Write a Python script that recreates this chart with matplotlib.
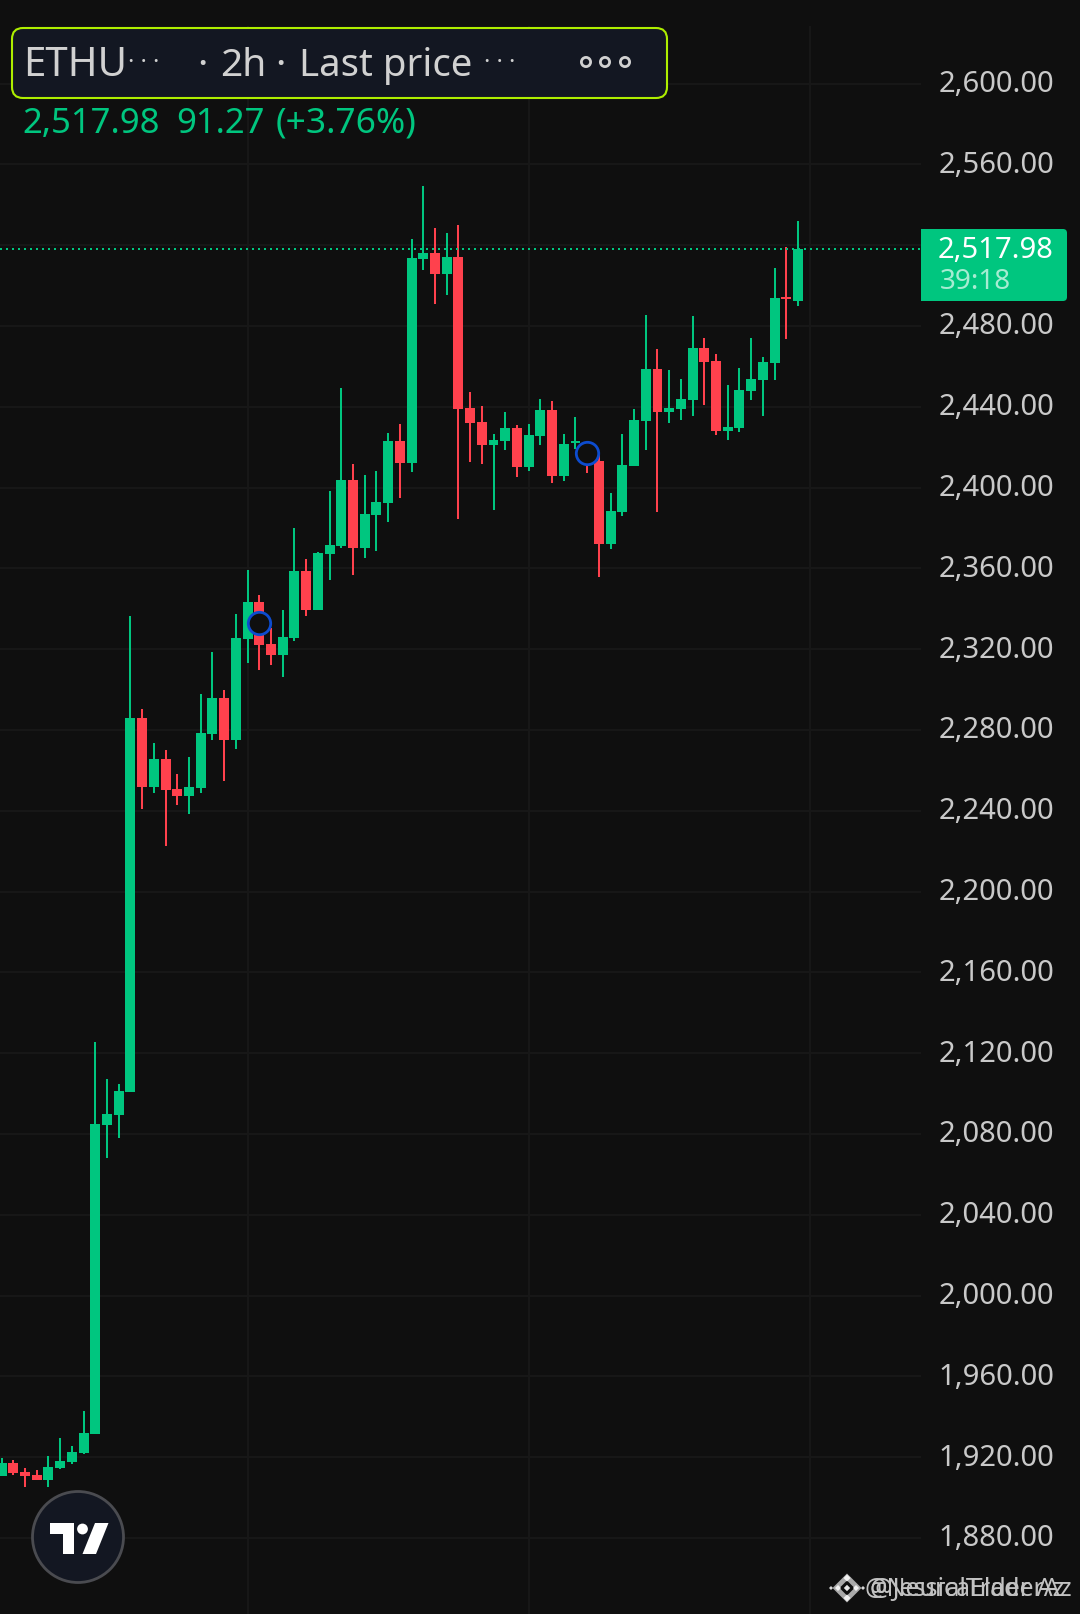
import matplotlib
matplotlib.use('Agg')
import matplotlib.pyplot as plt
from matplotlib.patches import Circle, FancyBboxPatch, Polygon, Rectangle

# candles, oldest first
opens = [1910.8, 1917.2, 1912.7, 1911.2, 1908.8, 1914.7, 1917.7, 1922.1, 1931.5, 2084.5,
         2089.4, 2100.8, 2286.0, 2251.8, 2265.7, 2250.8, 2247.3, 2251.3, 2278.0, 2295.9,
         2275.1, 2325.1, 2343.4, 2322.6, 2317.1, 2325.6, 2358.7, 2339.4, 2367.1, 2371.1,
         2403.8, 2370.1, 2386.4, 2392.4, 2423.1, 2412.2, 2513.2, 2516.1, 2505.7, 2514.2,
         2439.4, 2432.5, 2421.1, 2423.1, 2429.5, 2410.2, 2425.6, 2438.4, 2405.8, 2422.1,
         2420.6, 2413.2, 2372.1, 2387.9, 2410.7, 2433.0, 2458.7, 2437.4, 2438.9, 2443.4,
         2469.1, 2462.7, 2428.0, 2429.5, 2447.8, 2453.3, 2461.7, 2494.4, 2492.4]
highs = [1919.7, 1918.7, 1914.7, 1913.7, 1920.6, 1929.6, 1925.6, 1942.9, 2125.6, 2107.3,
         2104.8, 2336.4, 2290.4, 2273.6, 2270.1, 2258.2, 2266.7, 2297.8, 2318.6, 2299.8,
         2337.4, 2359.2, 2346.8, 2330.5, 2339.4, 2380.0, 2364.7, 2368.1, 2398.3, 2449.3,
         2411.7, 2406.2, 2408.2, 2427.0, 2431.5, 2523.1, 2549.3, 2528.5, 2526.0, 2530.0,
         2447.3, 2440.4, 2426.5, 2437.4, 2431.0, 2431.5, 2443.9, 2442.9, 2426.5, 2435.0,
         2422.6, 2416.1, 2397.3, 2426.5, 2438.9, 2485.4, 2468.6, 2458.2, 2453.8, 2484.9,
         2474.1, 2466.1, 2450.8, 2459.2, 2474.1, 2464.7, 2508.7, 2519.1, 2532.0]
lows = [1910.8, 1911.2, 1905.3, 1908.8, 1905.3, 1914.2, 1916.7, 1921.6, 1931.5, 2068.2,
        2078.1, 2100.8, 2240.9, 2248.8, 2222.6, 2242.9, 2238.4, 2248.8, 2275.1, 2254.8,
        2270.6, 2313.2, 2309.7, 2312.2, 2306.3, 2324.1, 2336.4, 2339.4, 2354.3, 2370.1,
        2356.7, 2365.2, 2368.6, 2383.0, 2394.9, 2407.7, 2507.7, 2490.9, 2495.3, 2384.5,
        2412.7, 2411.7, 2388.9, 2418.6, 2405.3, 2408.2, 2421.1, 2402.3, 2403.3, 2419.1,
        2407.2, 2355.8, 2369.6, 2385.9, 2410.7, 2418.6, 2387.9, 2432.0, 2433.5, 2435.5,
        2440.9, 2426.0, 2423.6, 2427.5, 2443.4, 2435.5, 2453.3, 2473.6, 2489.9]
closes = [1917.2, 1912.2, 1910.8, 1908.8, 1915.2, 1918.2, 1922.6, 1932.0, 2085.0, 2089.9,
          2101.3, 2286.0, 2251.8, 2265.7, 2250.3, 2247.3, 2251.8, 2278.5, 2295.9, 2275.1,
          2325.6, 2343.4, 2322.1, 2317.1, 2326.1, 2358.7, 2339.4, 2367.6, 2371.6, 2403.8,
          2370.1, 2386.9, 2392.9, 2423.1, 2412.2, 2513.7, 2516.1, 2505.7, 2514.2, 2438.9,
          2432.0, 2421.1, 2423.6, 2429.5, 2410.2, 2426.0, 2438.4, 2405.8, 2421.6, 2423.1,
          2415.2, 2372.1, 2388.4, 2411.2, 2433.5, 2458.7, 2437.4, 2439.4, 2443.9, 2469.1,
          2462.2, 2428.0, 2430.0, 2448.3, 2453.8, 2462.2, 2493.9, 2493.4, 2517.98]
# colour per candle: 1 = up, 0 = down
is_up = [1, 0, 0, 0, 1, 1, 1, 1, 1, 1, 1, 1, 0, 1, 0, 0, 1, 1, 1, 0, 1, 1, 0, 0, 1,
         1, 0, 1, 1, 1, 0, 1, 1, 1, 0, 1, 1, 0, 1, 0, 0, 0, 1, 1, 0, 1, 1, 0, 1, 1,
         0, 0, 1, 1, 1, 1, 0, 1, 1, 1, 0, 0, 1, 1, 1, 1, 1, 0, 1]

last_price = 2517.98
price_ticks = [2600, 2560, 2520, 2480, 2440, 2400, 2360, 2320, 2280, 2240, 2200, 2160,
               2120, 2080, 2040, 2000, 1960, 1920, 1880]
hidden_ticks = [2520]  # covered by the last price badge
time_grid = [21, 45, 69]
marker_candles = [22, 50]
marker_prices = [2333.0, 2417.0]

BG = '#0f0f0f'
GRID = '#171717'
UP = '#00c67f'
DOWN = '#ff414d'
W, H = 1080, 1615

fig = plt.figure(figsize=(W / 100, H / 100), dpi=100, facecolor=BG)

# price pane, everything left of the scale
ax = fig.add_axes([0, 0, 921 / W, 1])
ax.set_facecolor(BG)
ax.set_xlim(-0.137, 78.5)
ax.set_ylim(1842.4, 2641.9)
ax.axis('off')

for p in price_ticks:
    ax.axhline(p, color=GRID, lw=1.44, zorder=1)
for t in time_grid:
    ax.axvline(t, ymax=1 - 28 / H, color=GRID, lw=1.44, zorder=1)

for i in range(len(opens)):
    col = UP if is_up[i] else DOWN
    ax.vlines(i, lows[i], highs[i], color=col, lw=1.45, zorder=3)
    bottom = min(opens[i], closes[i])
    height = max(abs(closes[i] - opens[i]), 0.8)
    ax.bar(i, height, bottom=bottom, width=0.85, color=col, linewidth=0, zorder=3)

ax.axhline(last_price, color=UP, lw=1.44, dashes=(1, 2), zorder=4)

ax.scatter(marker_candles, marker_prices, s=260, facecolor=BG, edgecolor='#0d4ccf',
           linewidth=2.0, zorder=5)

# overlay in pixel coordinates for the chrome
ov = fig.add_axes([0, 0, 1, 1])
ov.set_xlim(0, W)
ov.set_ylim(H, 0)
ov.axis('off')
ov.patch.set_alpha(0)

# header box
ov.add_patch(FancyBboxPatch((12, 29), 655, 70, boxstyle='round,pad=0,rounding_size=11',
                            facecolor='#131722', edgecolor='#aeee00', lw=1.5, zorder=6))
HEAD = '#d1d1d1'
HF = 'Noto Sans'
ov.text(23.5, 76, 'ETHU', color=HEAD, fontsize=29, family=HF, zorder=7)
ov.text(128, 69, '· · ·', color=HEAD, fontsize=17, family=HF, zorder=7)
ov.text(197, 76, '·', color=HEAD, fontsize=28, family=HF, zorder=7)
ov.text(220, 76, '2h', color=HEAD, fontsize=28, family=HF, zorder=7)
ov.text(275, 76, '·', color=HEAD, fontsize=28, family=HF, zorder=7)
ov.text(299, 76, 'Last price', color=HEAD, fontsize=27.6, family=HF, zorder=7)
ov.text(484, 69, '· · ·', color=HEAD, fontsize=17, family=HF, zorder=7)
for cx in [586, 605, 625]:
    ov.add_patch(Circle((cx, 63), 4.6, facecolor='none', edgecolor=HEAD, lw=2, zorder=7))

ov.text(22, 133, '2,517.98', color=UP, fontsize=25, family=HF, zorder=7)
ov.text(176, 133, '91.27', color=UP, fontsize=25, family=HF, zorder=7)
ov.text(276, 133, '(+3.76%)', color=UP, fontsize=25.4, family=HF, zorder=7)

# price scale
for p in price_ticks:
    if p in hidden_ticks:
        continue
    y = 327 + (2480 - p) * 2.02
    ov.text(996, y - 3.5, f'{p:,.2f}', color='#c9c9c9', fontsize=21, family='Noto Sans',
            ha='center', va='center_baseline', zorder=7)

# last price badge
ov.add_patch(FancyBboxPatch((921, 230), 146, 72, boxstyle='round,pad=0,rounding_size=4',
                            facecolor=UP, edgecolor='none', zorder=6))
ov.add_patch(Rectangle((921, 230), 10, 72, facecolor=UP, edgecolor='none', zorder=6))
ov.text(996, 258, f'{last_price:,.2f}', color='#ffffff', fontsize=21, family='Noto Sans',
        ha='center', zorder=7)
ov.text(940, 289, '39:18', color='#a6ecd2', fontsize=20, family='Noto Sans', zorder=7)

# tradingview badge
ov.add_patch(Circle((78, 1538), 45.5, facecolor='#131722', edgecolor='#4a4b50', lw=2, zorder=6))
ov.add_patch(Polygon([(50, 1524), (74, 1524), (74, 1555), (63, 1555), (63, 1535), (50, 1535)],
                     facecolor='white', edgecolor='none', zorder=7))
ov.add_patch(Circle((82.5, 1530), 5.4, facecolor='white', edgecolor='none', zorder=7))
ov.add_patch(Polygon([(95, 1524), (108.5, 1524), (96, 1555), (82.5, 1555)],
                     facecolor='white', edgecolor='none', zorder=7))

# watermark logo, then two names printed over each other
def diamond(cx, cy, r, col):
    ov.add_patch(Polygon([(cx, cy - r), (cx + r, cy), (cx, cy + r), (cx - r, cy)],
                         facecolor=col, edgecolor='none', zorder=7))

diamond(847, 1589, 14.5, '#a9a9a9')
diamond(847, 1589, 7.5, BG)
diamond(847, 1589, 3.2, '#e6e6e6')
diamond(847, 1579, 3.5, '#f2f2f2')
diamond(847, 1599, 3.5, '#f2f2f2')
diamond(838, 1589, 3, '#f2f2f2')
diamond(856, 1589, 3, '#f2f2f2')
diamond(831, 1589, 2, '#d8d8d8')
diamond(863, 1589, 2, '#d8d8d8')
ov.text(865, 1596, '@NeuralTraderAz', color='#c2c2c2', fontsize=18, family='Noto Sans', zorder=7)
ov.text(870, 1596, '@JessicaElder Az', color='#c2c2c2', fontsize=18, family='Noto Sans', zorder=7)

fig.savefig('out.png', dpi=100, facecolor=BG)
